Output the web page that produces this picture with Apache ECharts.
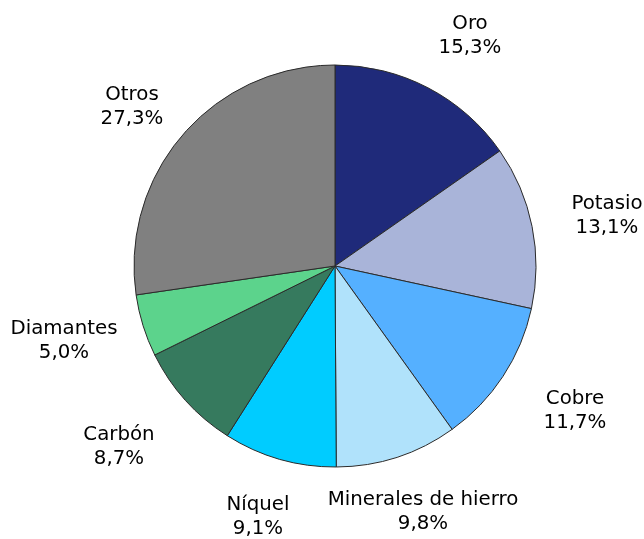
<!DOCTYPE html>
<html>
<head>
<meta charset="utf-8">
<script src="https://cdn.jsdelivr.net/npm/echarts@6/dist/echarts.min.js"></script>
<style>
  html, body { margin: 0; padding: 0; background: #fff; }
  #chart { width: 644px; height: 539px; }
</style>
</head>
<body>
<div id="chart"></div>
<script>
const categories = ["Oro", "Potasio", "Cobre", "Minerales de hierro", "Níquel", "Carbón", "Diamantes", "Otros"];
const shares = [15.3, 13.1, 11.7, 9.8, 9.1, 8.7, 5.0, 27.3];
const colors = ["#1F2A7A", "#A9B4D9", "#55B0FF", "#B0E2FB", "#00CCFF", "#367A5E", "#5CD38C", "#808080"];

// where each label block sits (layout only)
const labelCenters = [
  [470, 36], [607, 216], [575, 411], [423, 512],
  [258, 517], [119, 447], [64, 341], [132, 107]
];

const chart = echarts.init(document.getElementById("chart"));

const option = {
  animation: false,
  series: [
    {
      type: "pie",
      center: [335, 266],
      radius: 201,
      startAngle: 90,
      clockwise: true,
      avoidLabelOverlap: false,
      data: categories.map((name, i) => ({
        name: name,
        value: shares[i],
        itemStyle: { color: colors[i] },
      })),
      itemStyle: { borderColor: "#2a2a2a", borderWidth: 1 },
      emphasis: { disabled: true },
      label: {
        show: true,
        position: "outside",
        color: "#000",
        fontFamily: "DejaVu Sans, Verdana, sans-serif",
        fontSize: 19.8,
        lineHeight: 24,
        align: "center",
        formatter: (p) => p.name + "\n" + p.value.toFixed(1).replace(".", ",") + "%",
      },
      labelLine: { show: false },
      labelLayout: (params) => {
        const c = labelCenters[params.dataIndex];
        return { x: c[0], y: c[1], align: "center", verticalAlign: "middle" };
      },
    },
  ],
};

chart.setOption(option);
</script>
</body>
</html>
